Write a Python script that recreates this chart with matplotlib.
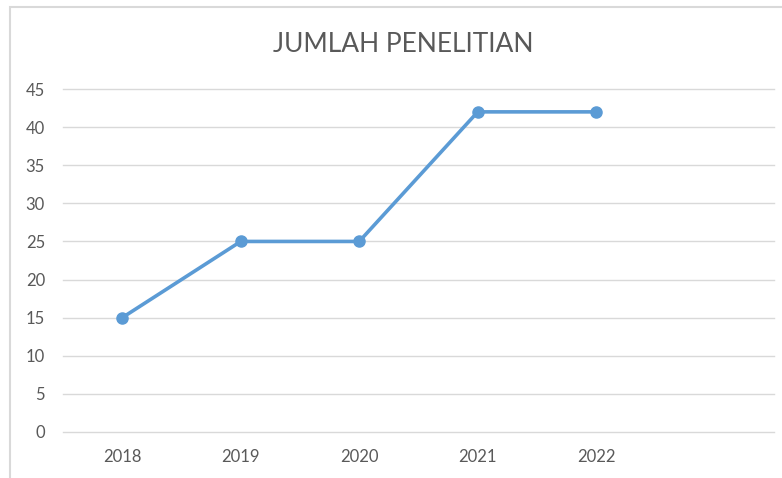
import matplotlib.pyplot as plt
from matplotlib.patches import Rectangle
import numpy as np

# data
years = ["2018", "2019", "2020", "2021", "2022"]
jumlah = [15, 25, 25, 42, 42]
y_ticks = [0, 5, 10, 15, 20, 25, 30, 35, 40, 45]

plt.rcParams["font.family"] = ["Lato", "DejaVu Sans"]

fig = plt.figure(figsize=(7.82, 4.78), dpi=100)
ax = fig.add_axes([63 / 782, 46 / 478, 711 / 782, 343 / 478])

# chart frame (cut off at right and bottom like the screenshot)
fig.patches.append(Rectangle((10 / 782, -0.1), 1.0, 471 / 478 + 0.1,
                             transform=fig.transFigure, fill=False,
                             edgecolor="#D9D9D9", linewidth=1.5))

x = np.arange(len(years))
ax.plot(x, jumlah, color="#5B9BD5", linewidth=2.6, marker="o",
        markersize=8, zorder=3)

# excel leaves an empty 6th category slot
ax.set_xlim(-0.5, 5.5)
ax.set_ylim(0, 45)
ax.set_xticks(x)
ax.set_xticklabels(years)
ax.set_yticks(y_ticks)
ax.tick_params(axis="both", length=0, labelsize=12, labelcolor="#595959")
ax.tick_params(axis="x", pad=12)
ax.tick_params(axis="y", pad=13)
ax.grid(axis="y", color="#D9D9D9", linewidth=1)
for gl in ax.get_ygridlines():
    gl.set_clip_on(False)
ax.set_axisbelow(True)
for s in ax.spines.values():
    s.set_visible(False)

fig.text(403 / 782, 1 - 45 / 478, "JUMLAH PENELITIAN", ha="center",
         va="center", fontsize=19, color="#595959")

fig.savefig("out.png", dpi=100)
